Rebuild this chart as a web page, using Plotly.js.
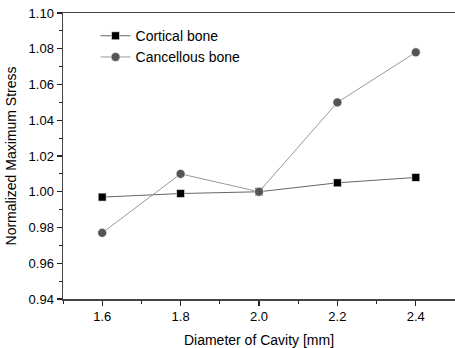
<!DOCTYPE html>
<html><head><meta charset="utf-8">
<script src="https://cdn.plot.ly/plotly-3.0.1.min.js"></script>
<style>html,body{margin:0;padding:0;background:#fff}#c{width:455px;height:348px}</style>
</head><body><div id="c"></div>
<script>
const diameters = [1.6, 1.8, 2.0, 2.2, 2.4];
const cortical = [0.997, 0.999, 1.000, 1.005, 1.008];
const cancellous = [0.977, 1.010, 1.000, 1.050, 1.078];
const seriesNames = ["Cortical bone", "Cancellous bone"];
const xTitle = "Diameter of Cavity [mm]";
const yTitle = "Normalized Maximum Stress";

const traces = [
  {x: diameters, y: cortical, name: seriesNames[0], mode: "lines+markers",
   line: {color: "#666666", width: 1},
   marker: {symbol: "square", size: 8, color: "#000000", line: {color: "#ffffff", width: 0.6}}},
  {x: diameters, y: cancellous, name: seriesNames[1], mode: "lines+markers",
   line: {color: "#999999", width: 1},
   marker: {symbol: "circle", size: 9, color: "#555555", line: {color: "#ffffff", width: 0.6}}}
];
const font = {family: "Liberation Sans, Arial, sans-serif", size: 13, color: "#000"};
const layout = {
  width: 455, height: 348,
  margin: {l: 63, r: 0, t: 13, b: 49},
  paper_bgcolor: "#fff", plot_bgcolor: "#fff",
  font: font,
  showlegend: true,
  legend: {x: 0.083, y: 0.975, xanchor: "left", yanchor: "top", bgcolor: "rgba(0,0,0,0)",
           font: {family: font.family, size: 14, color: "#000"}, tracegroupgap: 0},
  xaxis: {range: [1.5, 2.5], dtick: 0.2, tick0: 1.6, tickformat: ".1f",
          ticks: "outside", ticklen: 5, tickwidth: 1.2, tickcolor: "#222",
          minor: {dtick: 0.1, tick0: 1.5, ticks: "outside", ticklen: 3, tickwidth: 1, tickcolor: "#222"},
          showline: true, linecolor: "#444", linewidth: 1.5, mirror: true,
          showgrid: false, zeroline: false,
          tickfont: {family: font.family, size: 13, color: "#000"},
          title: {text: xTitle, font: {family: font.family, size: 14, color: "#000"}, standoff: 12}},
  yaxis: {range: [0.94, 1.10], dtick: 0.02, tick0: 0.94, tickformat: ".2f",
          ticks: "outside", ticklen: 5, tickwidth: 1.2, tickcolor: "#222",
          minor: {dtick: 0.01, ticks: "outside", ticklen: 3, tickwidth: 1, tickcolor: "#222"},
          showline: true, linecolor: "#444", linewidth: 1.5,
          showgrid: false, zeroline: false,
          tickfont: {family: font.family, size: 13, color: "#000"},
          title: {text: yTitle, font: {family: font.family, size: 14, color: "#000"}, standoff: 8}}
};
Plotly.newPlot("c", traces, layout, {staticPlot: true, displayModeBar: false});
</script></body></html>
